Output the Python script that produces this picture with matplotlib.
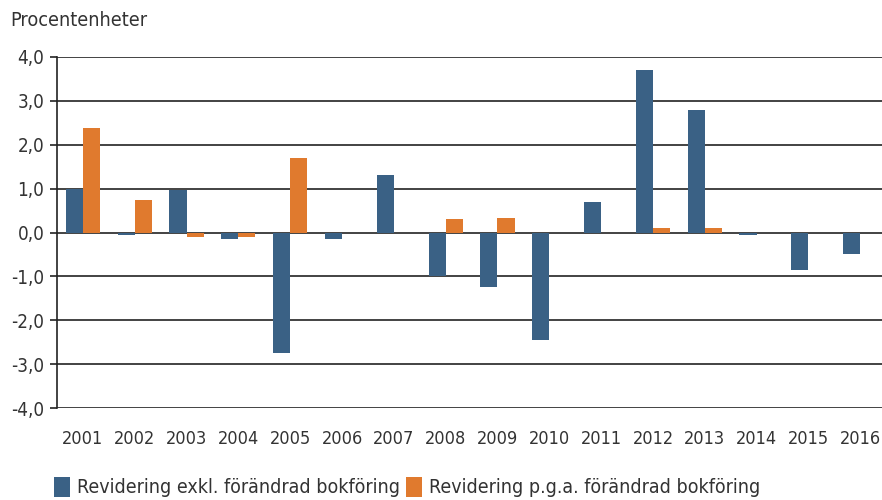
import matplotlib
matplotlib.use("Agg")
import matplotlib.pyplot as plt
from matplotlib.patches import Patch
import numpy as np

years = ["2001", "2002", "2003", "2004", "2005", "2006", "2007", "2008",
         "2009", "2010", "2011", "2012", "2013", "2014", "2015", "2016"]
excl = [1.0, -0.05, 0.98, -0.15, -2.75, -0.15, 1.3, -1.0,
        -1.25, -2.45, 0.7, 3.7, 2.8, -0.05, -0.85, -0.48]
pga = [2.38, 0.75, -0.1, -0.1, 1.7, 0.0, 0.0, 0.3,
       0.33, 0.0, 0.0, 0.1, 0.1, 0.0, 0.0, 0.0]
labels = ["Revidering exkl. förändrad bokföring", "Revidering p.g.a. förändrad bokföring"]
yticks = [-4, -3, -2, -1, 0, 1, 2, 3, 4]
ylabel = "Procentenheter"

blue = "#3A6185"
orange = "#E07A2E"
txt = "#333333"
plt.rcParams['font.family'] = ["DejaVu Sans"]
plt.rcParams['font.stretch'] = 'condensed'

fig = plt.figure(figsize=(8.82, 5.0), dpi=100)
ax = fig.add_axes([0.0646, 0.184, 0.9354, 0.702])

x = np.arange(len(years))
w = 0.33
ax.bar(x - w / 2, excl, width=w, color=blue, zorder=3)
ax.bar(x + w / 2, pga, width=w, color=orange, zorder=3)

ax.set_xlim(-0.5, 15.42)
ax.set_ylim(-4, 4)
ax.set_yticks(yticks)
ax.set_yticklabels([f"{v:.1f}".replace(".", ",") for v in yticks], fontsize=13.5, color=txt)
ax.set_xticks(x)
ax.set_xticklabels(years, fontsize=13, color=txt)
ax.tick_params(axis='x', length=0, pad=16)
ax.tick_params(axis='y', length=5, width=1.2, color="#222222", pad=4, direction='out')
ax.yaxis.grid(True, color="#222222", linewidth=1.2, zorder=1)
for s in ["top", "right", "bottom"]:
    ax.spines[s].set_visible(False)
ax.spines["left"].set_color("#222222")
ax.spines["left"].set_linewidth(1.2)

fig.text(0.012, 0.958, ylabel, fontsize=14.2, color=txt, ha="left", va="center")

handles = [Patch(facecolor=blue, label=labels[0]), Patch(facecolor=orange, label=labels[1])]
fig.legend(handles=handles, loc="center left", bbox_to_anchor=(0.041, 0.026), ncol=2,
           frameon=False, fontsize=14.0, handlelength=0.85, handleheight=1.2,
           handletextpad=0.35, columnspacing=0.3, labelcolor=txt)

fig.savefig("out.png", dpi=100)
